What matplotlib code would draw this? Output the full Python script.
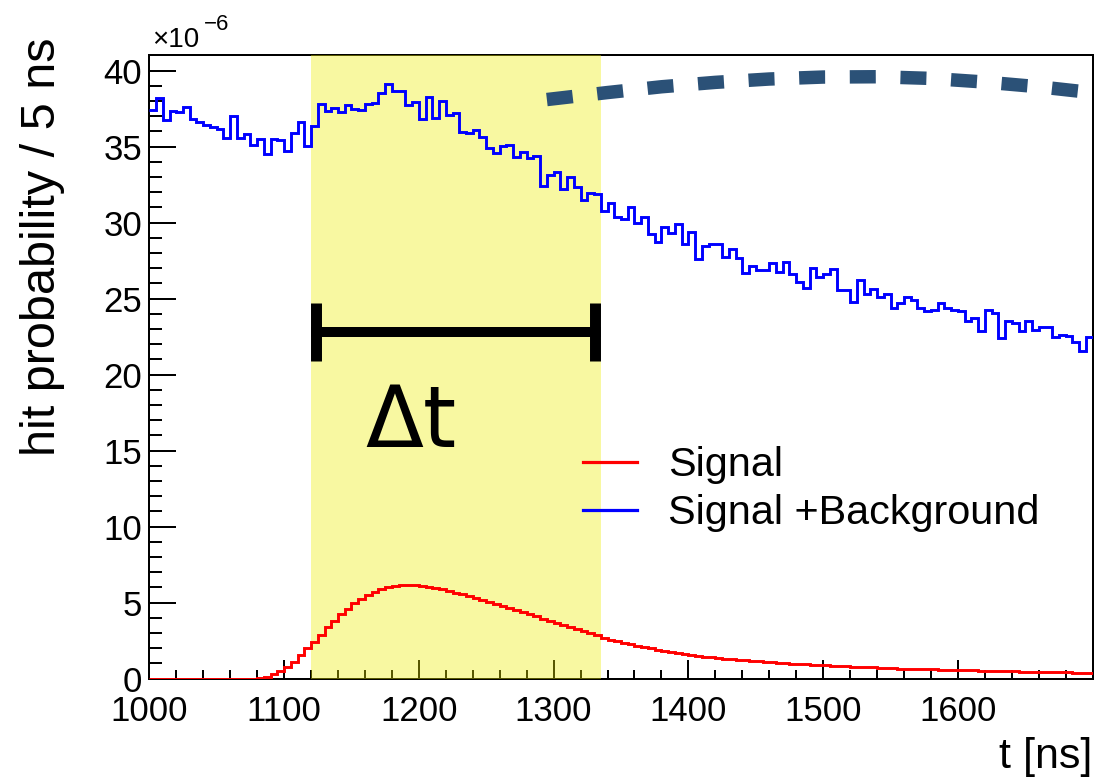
import numpy as np
import matplotlib
matplotlib.use("Agg")
import matplotlib.pyplot as plt
from matplotlib.ticker import MultipleLocator, FixedLocator

plt.rcParams['font.family'] = ['Liberation Sans', 'DejaVu Sans']

# ---------------- data (hit probability in units of 1e-6, 5 ns bins) -------------
bin_edges_start = 1000
bin_width = 5
n_bins = 140

signal_plus_background = [
    37.41, 38.18, 36.76, 37.37, 37.30, 37.59, 36.80, 36.65, 36.43, 36.32,
    36.16, 35.55, 37.02, 35.59, 35.81, 35.11, 35.49, 34.50, 35.49, 35.44,
    34.72, 35.88, 36.63, 35.07, 36.36, 37.81, 37.35, 37.55, 37.30, 37.72,
    37.46, 37.39, 37.81, 37.86, 38.55, 39.12, 38.69, 38.69, 37.74, 37.96,
    36.80, 38.25, 36.87, 38.00, 37.09, 37.20, 35.99, 35.88, 36.10, 35.62,
    34.90, 34.57, 35.05, 35.11, 34.30, 34.67, 34.24, 34.39, 32.41, 33.14,
    33.34, 32.20, 33.03, 32.33, 31.49, 31.97, 31.89, 30.77, 31.32, 30.35,
    30.24, 31.05, 29.96, 30.40, 29.24, 28.75, 29.70, 29.30, 29.91, 28.60,
    29.41, 27.59, 28.47, 28.60, 28.60, 27.76, 28.25, 27.66, 26.71, 27.15,
    26.89, 26.89, 27.33, 26.78, 27.43, 26.62, 26.12, 25.68, 27.00, 26.41,
    26.62, 26.97, 25.55, 25.55, 24.80, 26.23, 25.31, 25.62, 25.09, 25.31,
    24.41, 24.74, 25.13, 24.91, 24.37, 24.21, 24.26, 24.74, 24.37, 24.26,
    24.21, 23.55, 23.71, 22.89, 24.26, 24.04, 22.39, 23.55, 23.38, 22.89,
    23.55, 22.94, 23.16, 23.16, 22.50, 22.61, 22.55, 22.17, 21.56, 22.50,
]

signal = [
    0.0, 0.0, 0.0, 0.0, 0.0, 0.0, 0.0, 0.0, 0.0, 0.0,
    0.0, 0.0, 0.0, 0.0, 0.0, 0.0, 0.05, 0.13, 0.31, 0.50,
    0.79, 1.12, 1.56, 2.00, 2.44, 2.87, 3.38, 3.82, 4.25, 4.59,
    4.96, 5.24, 5.53, 5.73, 5.90, 6.03, 6.12, 6.16, 6.19, 6.16,
    6.12, 6.03, 5.97, 5.88, 5.77, 5.66, 5.55, 5.44, 5.31, 5.18,
    5.05, 4.91, 4.78, 4.65, 4.52, 4.37, 4.24, 4.10, 3.95, 3.82,
    3.69, 3.56, 3.42, 3.29, 3.14, 3.01, 2.87, 2.68, 2.57, 2.47,
    2.37, 2.27, 2.17, 2.08, 1.99, 1.91, 1.83, 1.76, 1.69, 1.63,
    1.57, 1.51, 1.46, 1.41, 1.36, 1.32, 1.28, 1.24, 1.20, 1.17,
    1.14, 1.11, 1.08, 1.05, 1.02, 0.99, 0.96, 0.94, 0.92, 0.90,
    0.88, 0.86, 0.84, 0.82, 0.80, 0.78, 0.76, 0.74, 0.72, 0.70,
    0.68, 0.67, 0.66, 0.64, 0.63, 0.62, 0.61, 0.60, 0.58, 0.57,
    0.56, 0.55, 0.54, 0.53, 0.52, 0.51, 0.50, 0.49, 0.48, 0.47,
    0.46, 0.45, 0.44, 0.43, 0.43, 0.42, 0.41, 0.40, 0.40, 0.39,
]

# thick dashed curve in the upper right
dash_t = [1295, 1340, 1380, 1420, 1460, 1500, 1540, 1580, 1620, 1660, 1700]
dash_y = [38.10, 38.56, 38.94, 39.23, 39.45, 39.58, 39.60, 39.49, 39.25, 38.94, 38.55]

# time window
window = [1120, 1335]
bar_y = 22.83
cap_x = [1124, 1331]
cap_y = [20.9, 24.7]

x_major = [1000, 1100, 1200, 1300, 1400, 1500, 1600]
legend_labels = ["Signal", "Signal +Background"]

# ---------------- figure -------------------------------------------------------
W, H = 1097, 781
fig = plt.figure(figsize=(W / 100, H / 100), dpi=100)
ax_l, ax_r, ax_t, ax_b = 149.3, 1092.7, 55.0, 678.7
ax = fig.add_axes([ax_l / W, 1 - ax_b / H, (ax_r - ax_l) / W, (ax_b - ax_t) / H])

edges = bin_edges_start + bin_width * np.arange(n_bins + 1)

ax.axvspan(window[0], window[1], color=(0.93, 0.93, 0.0), alpha=0.37, lw=0, zorder=2.7)

ax.stairs(signal_plus_background, edges, baseline=None, color='#0000ff', lw=2.1, zorder=4,
          label=legend_labels[1])
ax.stairs(signal, edges, baseline=None, color='#ff0000', lw=2.1, zorder=4,
          label=legend_labels[0])

ax.plot(dash_t, dash_y, color='#2b5177', lw=9.7, dashes=(1.93, 1.83),
        solid_capstyle='butt', dash_capstyle='butt', zorder=5)

# delta-t bar
ax.plot(window, [bar_y, bar_y], color='black', lw=7.2, solid_capstyle='butt', zorder=5)
for cx in cap_x:
    ax.plot([cx, cx], cap_y, color='black', lw=7.9, solid_capstyle='butt', zorder=5)
ax.text(1160, 15.26, "\u0394t", fontsize=61, family='DejaVu Sans',
        ha='left', va='baseline', zorder=6)

ax.set_xlim(1000, 1700)
ax.set_ylim(0, 41.03)
ax.xaxis.set_major_locator(FixedLocator(x_major))
ax.xaxis.set_minor_locator(MultipleLocator(20))
ax.yaxis.set_major_locator(MultipleLocator(5))
ax.yaxis.set_minor_locator(MultipleLocator(1))
ax.tick_params(axis='both', which='both', direction='in', top=False, right=False,
               width=1.44, colors='black', labelsize=25)
ax.tick_params(axis='x', which='major', length=13.7, pad=12)
ax.tick_params(axis='x', which='minor', length=6.8)
ax.tick_params(axis='y', which='major', length=19.4, pad=5)
ax.tick_params(axis='y', which='minor', length=9.4)
for s in ax.spines.values():
    s.set_linewidth(1.44)

# legend
h_red = plt.Line2D([], [], color='#ff0000', lw=2.3)
h_blue = plt.Line2D([], [], color='#0000ff', lw=2.3)
ax.legend([h_red, h_blue], legend_labels, loc='upper left',
          bbox_to_anchor=((583 - ax_l) / (ax_r - ax_l), (ax_b - 446) / (ax_b - ax_t)),
          frameon=False, fontsize=29.8, borderpad=0, borderaxespad=0,
          handlelength=1.30, handletextpad=0.75, labelspacing=0.25)

# axis titles
fig.text(43 / W, 1 - 247 / H, "hit probability / 5 ns", rotation=90, fontsize=35,
         ha='center', va='center')
fig.text(1092 / W, 1 - 757 / H, "t [ns]", fontsize=31, ha='right', va='center')
fig.text(152 / W, 1 - 47 / H, "\u00d710", fontsize=20, ha='left', va='baseline')
fig.text(204 / W, 1 - 30 / H, "\u22126", fontsize=16, ha='left', va='baseline')

fig.savefig("out.png", dpi=100)
